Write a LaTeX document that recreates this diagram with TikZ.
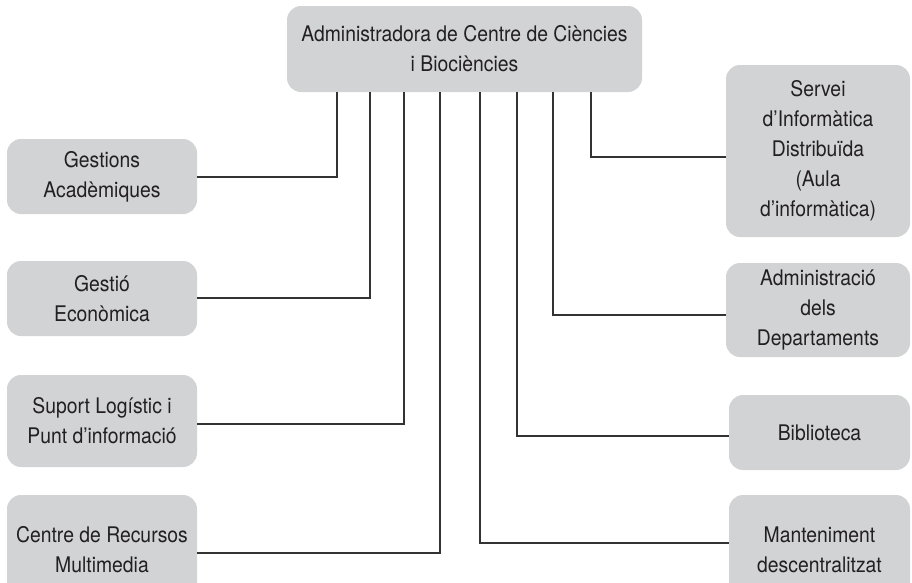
\documentclass[tikz,border=0pt]{standalone}
\usepackage{fontspec}
\setmainfont{TeX Gyre Heros}[FakeStretch=0.9]
\usetikzlibrary{positioning}
\definecolor{boxgray}{RGB}{209, 211, 212}
\definecolor{inkgray}{RGB}{35, 31, 32}

\begin{document}
\begin{tikzpicture}[x=1pt, y=-1pt,
    unit/.style={rectangle, rounded corners=14pt, fill=boxgray, align=center,
                 inner sep=0pt, text=inkgray, font=\fontsize{21.5}{30}\selectfont},
    conn/.style={line width=1.1pt, draw=black!80}]
    
    \useasboundingbox (0,0) rectangle (912,582);
    \clip (0,0) rectangle (912,582);
    
    % head of the centre
    \node[unit, minimum width=355pt, minimum height=86pt] (top) at (464.5, 49)
        {Administradora de Centre de Ciències\\i Biociències};
    
    % units on the left
    \node[unit, minimum width=190pt, minimum height=75pt] (gest) at (102, 176.5) {Gestions\\Acadèmiques};
    \node[unit, minimum width=190pt, minimum height=75pt] (econ) at (102, 298.5) {Gestió\\Econòmica};
    \node[unit, minimum width=190pt, minimum height=92pt] (suport) at (102, 421) {Suport Logístic i\\Punt d’informació};
    \node[unit, minimum width=190pt, minimum height=110pt] (centre) at (102, 550) {Centre de Recursos\\Multimedia};
    
    % units on the right
    \node[unit, minimum width=184pt, minimum height=172pt] (servei) at (818, 151)
        {Servei\\d’Informàtica\\Distribuïda\\(Aula\\d’informàtica)};
    \node[unit, minimum width=184pt, minimum height=94pt] (admin) at (818, 310) {Administració\\dels\\Departaments};
    \node[unit, minimum width=181pt, minimum height=75pt] (biblio) at (819.5, 432.5) {Biblioteca};
    \node[unit, minimum width=181pt, minimum height=110pt] (mant) at (819.5, 550) {Manteniment\\descentralitzat};
    
    \draw[conn] (gest.east |- 0,177) -| (top.south -| 337,0);
    \draw[conn] (econ.east |- 0,298) -| (top.south -| 370,0);
    \draw[conn] (suport.east |- 0,424) -| (top.south -| 404,0);
    \draw[conn] (centre.east |- 0,553) -| (top.south -| 440,0);
    \draw[conn] (mant.west |- 0,543) -| (top.south -| 480,0);
    \draw[conn] (biblio.west |- 0,436) -| (top.south -| 517,0);
    \draw[conn] (admin.west |- 0,315) -| (top.south -| 553,0);
    \draw[conn] (servei.west |- 0,157) -| (top.south -| 591,0);
\end{tikzpicture}
\end{document}
